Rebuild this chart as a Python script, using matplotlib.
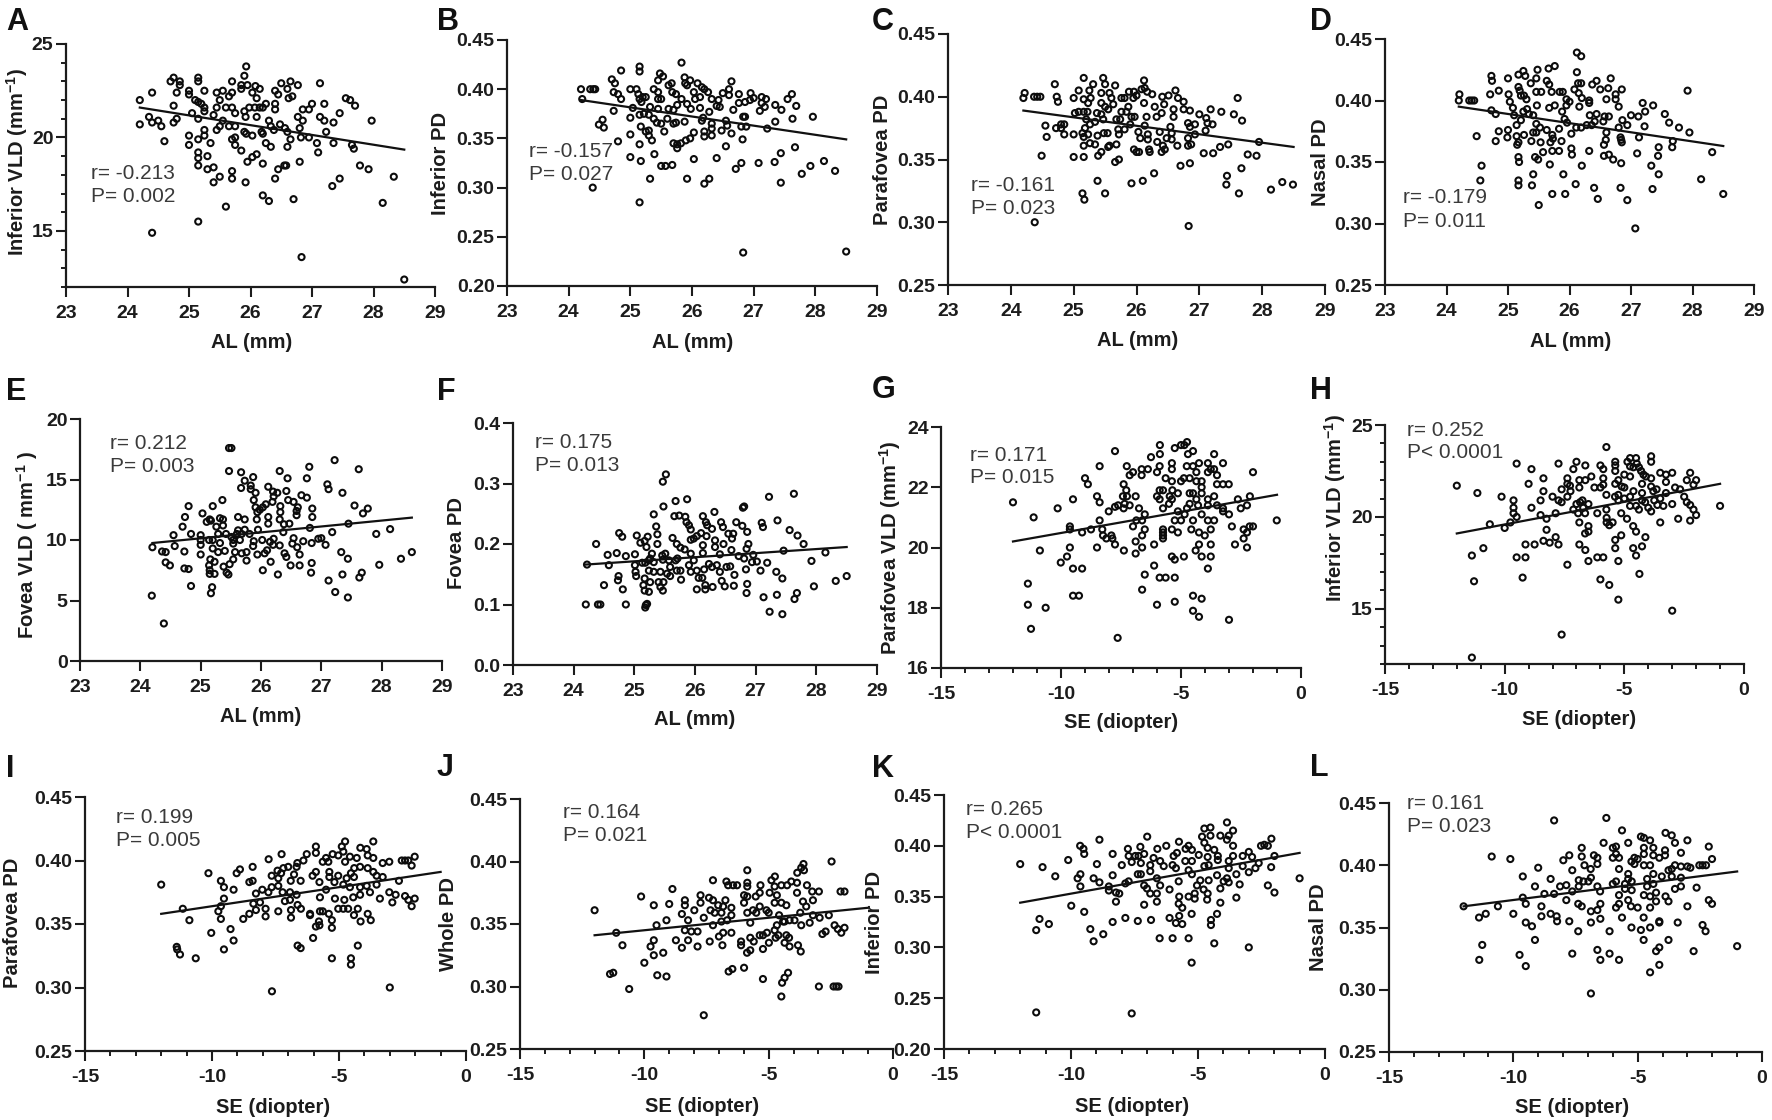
import matplotlib
matplotlib.use("Agg")
import matplotlib.pyplot as plt
from matplotlib.ticker import FixedLocator

plt.rcParams['font.family'] = ['Liberation Sans', 'DejaVu Sans']
plt.rcParams['axes.unicode_minus'] = False
plt.rcParams['mathtext.fontset'] = 'custom'
plt.rcParams['mathtext.bf'] = 'Liberation Sans:bold'
plt.rcParams['mathtext.rm'] = 'Liberation Sans'
plt.rcParams['mathtext.default'] = 'bf'

W, H = 1772, 1120
INK = '#1c1c1c'

a_points = [(24.2,22.0),(24.2,20.7),(24.35,21.1),(24.4,22.4),(24.4,20.8),(24.5,20.9),(24.55,20.6),(24.6,19.8),(24.4,14.9),(24.7,23.0),(24.75,23.2),(24.75,21.7),(24.75,20.8),(24.8,21.0),(24.8,22.4),(24.85,23.0),(24.85,22.8),(25.0,22.5),(25.0,22.3),(25.0,20.1),(25.0,19.6),(25.05,21.3),(25.15,23.2),(25.15,23.0),(25.25,22.5),(25.1,22.0),(25.15,21.9),(25.2,21.8),(25.25,21.6),(25.25,21.4),(25.15,21.0),(25.15,19.9),(25.25,20.1),(25.25,20.4),(25.15,19.2),(25.15,18.9),(25.15,18.5),(25.3,19.0),(25.3,18.3),(25.4,18.4),(25.35,19.7),(25.4,17.6),(25.5,17.9),(25.6,16.3),(25.15,15.5),(25.45,20.4),(25.5,20.6),(25.4,21.2),(25.45,21.6),(25.5,22.0),(25.45,22.4),(25.55,22.5),(25.65,22.2),(25.7,22.4),(25.6,21.6),(25.7,21.6),(25.55,20.9),(25.65,20.6),(25.75,20.6),(25.75,21.3),(25.7,23.0),(25.7,19.9),(25.75,20.0),(25.75,19.6),(25.85,19.3),(25.7,18.2),(25.7,17.8),(25.92,17.6),(25.85,22.8),(25.85,22.6),(25.9,23.3),(25.93,23.8),(25.95,22.8),(25.9,21.4),(25.92,21.1),(25.9,20.3),(25.93,20.2),(26.03,20.1),(25.95,18.7),(26.03,18.95),(26.1,19.1),(26.2,18.6),(25.98,21.6),(26.07,21.6),(26.15,21.6),(26.2,21.6),(26.03,22.4),(26.08,22.75),(26.15,22.6),(26.1,22.1),(26.1,21.1),(26.18,20.3),(26.2,20.2),(26.25,19.7),(26.33,19.5),(26.2,16.9),(26.3,16.6),(26.4,17.8),(26.45,18.3),(26.55,18.5),(26.58,18.5),(26.7,16.7),(26.8,18.7),(26.83,13.6),(26.25,21.8),(26.4,21.8),(26.4,21.5),(26.4,22.5),(26.45,22.3),(26.5,22.9),(26.6,22.6),(26.65,23.0),(26.77,22.8),(26.62,22.1),(26.68,22.2),(26.3,20.9),(26.33,20.6),(26.38,20.4),(26.48,20.7),(26.56,20.5),(26.6,20.3),(26.6,19.5),(26.65,19.9),(26.77,21.1),(26.85,21.5),(26.85,20.9),(26.8,20.5),(26.82,20.0),(26.95,20.0),(26.95,21.5),(27.0,21.8),(27.13,22.9),(27.2,21.8),(27.13,21.1),(27.2,20.9),(27.23,20.3),(27.08,19.7),(27.1,19.2),(27.35,20.8),(27.45,21.3),(27.35,19.7),(27.33,17.4),(27.45,17.8),(27.55,22.1),(27.62,22.0),(27.7,21.7),(27.65,19.6),(27.68,19.4),(27.78,18.5),(27.92,18.3),(27.97,20.9),(28.15,16.5),(28.33,17.9),(28.5,12.4)]

b_points = [(24.2,.400),(24.22,.390),(24.35,.400),(24.4,.400),(24.43,.400),(24.39,.300),(24.49,.364),(24.55,.369),(24.57,.361),(24.7,.41),(24.75,.406),(24.73,.397),(24.8,.395),(24.85,.39),(24.73,.378),(24.8,.347),(24.85,.419),(25,.40),(25.1,.40),(25.15,.423),(25.15,.418),(25.13,.395),(25.15,.39),(25.2,.392),(25.25,.392),(25.18,.387),(25.04,.381),(25,.371),(25,.354),(25,.331),(25.15,.374),(25.17,.362),(25.15,.344),(25.17,.327),(25.15,.285),(25.22,.375),(25.3,.374),(25.32,.382),(25.38,.40),(25.45,.409),(25.48,.416),(25.53,.413),(25.45,.397),(25.45,.39),(25.5,.39),(25.45,.38),(25.38,.37),(25.43,.366),(25.5,.365),(25.55,.357),(25.6,.37),(25.62,.38),(25.67,.406),(25.62,.404),(25.68,.397),(25.74,.395),(25.76,.384),(25.7,.379),(25.7,.365),(25.74,.366),(25.25,.357),(25.3,.358),(25.35,.348),(25.3,.353),(25.39,.334),(25.32,.309),(25.5,.322),(25.57,.322),(25.68,.323),(25.7,.345),(25.76,.344),(25.76,.34),(25.82,.345),(25.9,.348),(25.97,.35),(26.03,.356),(26.03,.329),(25.92,.309),(26.2,.304),(26.28,.309),(25.83,.427),(25.83,.39),(25.88,.412),(25.89,.406),(25.92,.404),(25.97,.409),(25.92,.385),(25.88,.367),(25.98,.38),(26.03,.397),(26.09,.406),(26.16,.402),(26.13,.392),(26.05,.39),(26.13,.381),(26.16,.368),(26.18,.371),(26.2,.40),(26.26,.397),(26.32,.39),(26.28,.377),(26.2,.357),(26.2,.352),(26.32,.353),(26.32,.36),(26.32,.365),(26.4,.383),(26.43,.389),(26.45,.382),(26.4,.33),(26.48,.358),(26.55,.368),(26.57,.363),(26.55,.342),(26.5,.396),(26.6,.40),(26.6,.394),(26.64,.408),(26.67,.379),(26.64,.355),(26.71,.319),(26.76,.395),(26.76,.386),(26.8,.362),(26.8,.325),(26.82,.349),(26.83,.372),(26.86,.372),(26.88,.362),(26.83,.234),(26.86,.387),(26.94,.389),(26.95,.396),(27,.391),(27.08,.325),(27.1,.378),(27.13,.392),(27.13,.386),(27.2,.39),(27.18,.382),(27.22,.36),(27.35,.384),(27.35,.367),(27.34,.326),(27.45,.379),(27.44,.335),(27.44,.305),(27.55,.39),(27.62,.395),(27.63,.37),(27.69,.383),(27.67,.341),(27.78,.314),(27.92,.322),(27.96,.372),(28.14,.327),(28.32,.317),(28.5,.235)]

c_points = [(24.22,.403),(24.2,.399),(24.37,.40),(24.42,.40),(24.47,.40),(24.38,.30),(24.49,.353),(24.55,.377),(24.57,.368),(24.7,.41),(24.73,.40),(24.75,.396),(24.72,.375),(24.8,.378),(24.85,.378),(24.8,.375),(24.85,.37),(25,.399),(25.08,.405),(25.16,.415),(25.16,.398),(25,.37),(25,.352),(25.16,.352),(25.14,.323),(25.17,.318),(25.02,.387),(25.08,.388),(25.16,.388),(25.22,.388),(25.2,.382),(25.26,.378),(25.18,.375),(25.14,.371),(25.16,.368),(25.23,.37),(25.16,.361),(25.26,.363),(25.34,.362),(25.25,.405),(25.31,.41),(25.27,.399),(25.23,.395),(25.34,.38),(25.37,.387),(25.44,.403),(25.47,.415),(25.5,.41),(25.44,.395),(25.5,.392),(25.55,.39),(25.57,.403),(25.6,.399),(25.66,.409),(25.63,.394),(25.47,.382),(25.44,.386),(25.38,.369),(25.48,.371),(25.54,.371),(25.39,.353),(25.44,.356),(25.38,.333),(25.5,.323),(25.55,.36),(25.57,.361),(25.68,.362),(25.66,.348),(25.72,.35),(25.68,.382),(25.74,.382),(25.71,.374),(25.72,.37),(25.76,.399),(25.76,.388),(25.84,.388),(25.81,.399),(25.87,.392),(25.81,.374),(25.9,.378),(25.92,.384),(25.97,.384),(25.95,.399),(25.88,.404),(25.96,.404),(26,.401),(25.92,.331),(26.1,.333),(25.96,.358),(26,.356),(26.04,.356),(26.03,.372),(26.06,.367),(26.12,.395),(26.12,.413),(26.08,.406),(26.13,.407),(26.17,.404),(26.25,.402),(26.18,.37),(26.18,.366),(26.2,.358),(26.21,.356),(26.13,.377),(26.16,.384),(26.28,.339),(26.29,.392),(26.32,.384),(26.4,.387),(26.33,.364),(26.37,.372),(26.4,.356),(26.45,.358),(26.42,.361),(26.48,.367),(26.41,.4),(26.44,.394),(26.51,.401),(26.54,.376),(26.56,.371),(26.56,.366),(26.59,.384),(26.59,.39),(26.62,.405),(26.66,.399),(26.65,.361),(26.7,.345),(26.75,.396),(26.75,.39),(26.85,.347),(26.85,.389),(26.82,.379),(26.85,.376),(26.93,.378),(26.82,.367),(26.82,.361),(26.87,.362),(26.93,.37),(26.83,.297),(27,.386),(27.07,.355),(27.11,.383),(27.1,.373),(27.13,.379),(27.21,.378),(27.18,.39),(27.22,.355),(27.35,.388),(27.33,.36),(27.46,.362),(27.44,.337),(27.43,.33),(27.55,.386),(27.61,.399),(27.68,.381),(27.67,.343),(27.63,.323),(27.77,.354),(27.91,.353),(27.95,.364),(28.14,.326),(28.32,.332),(28.49,.33)]

d_points = [(24.21,.405),(24.2,.40),(24.37,.40),(24.41,.40),(24.45,.40),(24.49,.371),(24.57,.347),(24.55,.335),(24.73,.42),(24.74,.416),(24.71,.405),(24.85,.408),(24.73,.392),(24.8,.389),(24.85,.375),(24.8,.367),(25,.418),(25.01,.405),(25.03,.399),(25.08,.394),(25,.376),(24.99,.37),(25.1,.388),(25.14,.38),(25.14,.371),(25.17,.366),(25.15,.364),(25.17,.354),(25.18,.35),(25.17,.335),(25.17,.331),(25.17,.421),(25.25,.424),(25.28,.42),(25.17,.411),(25.19,.408),(25.21,.404),(25.26,.404),(25.3,.401),(25.21,.384),(25.25,.391),(25.31,.393),(25.34,.389),(25.26,.372),(25.37,.414),(25.46,.418),(25.48,.425),(25.38,.367),(25.44,.354),(25.49,.352),(25.41,.34),(25.39,.331),(25.5,.315),(25.46,.407),(25.54,.407),(25.47,.396),(25.41,.388),(25.46,.381),(25.52,.378),(25.41,.374),(25.46,.374),(25.53,.366),(25.57,.358),(25.63,.376),(25.68,.348),(25.66,.426),(25.76,.428),(25.63,.416),(25.67,.413),(25.71,.407),(25.67,.394),(25.76,.396),(25.72,.372),(25.73,.369),(25.69,.366),(25.72,.359),(25.83,.359),(25.72,.324),(25.84,.407),(25.89,.407),(25.87,.367),(25.83,.377),(25.9,.34),(25.93,.324),(25.88,.391),(25.92,.385),(25.96,.382),(25.95,.401),(26,.399),(25.95,.396),(26.03,.373),(26.03,.361),(26.04,.356),(26.08,.409),(26.12,.423),(26.12,.439),(26.19,.436),(26.14,.414),(26.19,.414),(26.15,.406),(26.2,.402),(26.16,.395),(26.11,.378),(26.19,.378),(26.2,.347),(26.1,.332),(26.32,.40),(26.32,.398),(26.32,.359),(26.28,.38),(26.33,.388),(26.36,.38),(26.41,.383),(26.44,.389),(26.37,.413),(26.44,.416),(26.4,.329),(26.46,.32),(26.5,.409),(26.63,.41),(26.6,.401),(26.55,.383),(26.64,.387),(26.57,.387),(26.6,.374),(26.59,.368),(26.56,.364),(26.56,.355),(26.64,.356),(26.71,.352),(26.67,.418),(26.75,.405),(26.75,.401),(26.8,.395),(26.85,.409),(26.86,.384),(26.8,.378),(26.83,.37),(26.84,.368),(26.85,.366),(26.84,.349),(26.83,.329),(26.94,.319),(26.94,.38),(27,.388),(27.12,.387),(27.13,.37),(27.1,.357),(27.07,.296),(27.19,.398),(27.23,.391),(27.22,.379),(27.36,.396),(27.33,.347),(27.35,.328),(27.45,.362),(27.44,.355),(27.45,.34),(27.55,.389),(27.62,.382),(27.68,.367),(27.67,.362),(27.78,.378),(27.92,.408),(27.95,.374),(28.14,.336),(28.32,.358),(28.5,.324)]

e_points = [(24.2,9.4),(24.19,5.4),(24.36,9.05),(24.42,9.0),(24.39,3.1),(24.42,8.15),(24.49,7.9),(24.55,10.4),(24.57,9.5),(24.7,11.1),(24.74,11.9),(24.8,12.8),(24.73,9.05),(24.73,7.65),(24.8,7.6),(24.84,6.2),(24.84,10.5),(25,10.4),(25,10),(25,9.6),(25,8.8),(25.03,12.2),(25.1,11.5),(25.15,11.7),(25.17,11.6),(25.2,12.8),(25.14,10),(25.2,10),(25.2,9.3),(25.16,8.4),(25.14,7.9),(25.15,7.5),(25.15,7.2),(25.23,8.2),(25.23,7.2),(25.19,6.1),(25.17,5.6),(25.29,9),(25.32,9.75),(25.26,11.1),(25.32,11.8),(25.37,11.7),(25.36,13.3),(25.29,10.5),(25.37,11.2),(25.42,10.5),(25.4,9.1),(25.38,7.8),(25.43,7.3),(25.46,7.15),(25.48,8),(25.54,8.4),(25.47,17.6),(25.51,17.6),(25.47,15.7),(25.51,10.25),(25.54,10),(25.54,9.7),(25.6,10.5),(25.62,10.8),(25.57,9),(25.68,8.9),(25.76,8.3),(25.76,9),(25.65,10),(25.68,10.5),(25.73,10.85),(25.81,10.5),(25.62,11.9),(25.73,11.7),(25.67,15.6),(25.67,14.3),(25.73,14.9),(25.83,14.5),(25.87,15.2),(25.83,14.2),(25.91,13.9),(25.88,13.3),(25.91,12.7),(25.94,12.3),(25.93,11.7),(25.95,10.85),(25.88,9.9),(25.87,9.5),(25.94,8.8),(25.98,12.5),(26.03,12.7),(26.08,12.95),(26.02,10),(26.06,8.9),(26.1,9.15),(26.03,7.5),(26.16,8.2),(26.12,14.4),(26.12,11.9),(26.12,11.35),(26.2,14),(26.19,13.15),(26.21,13.6),(26.27,13.9),(26.15,9.85),(26.21,10.1),(26.2,9.6),(26.31,9.55),(26.28,7.15),(26.32,12.8),(26.32,12.3),(26.31,11.7),(26.31,15.7),(26.38,11.3),(26.47,11.35),(26.37,10.65),(26.39,8.9),(26.42,8.6),(26.49,7.9),(26.44,15.1),(26.42,14.05),(26.45,13.3),(26.54,13.15),(26.61,12.7),(26.59,12.4),(26.59,12.05),(26.54,10.15),(26.52,9.7),(26.6,9.4),(26.64,8.8),(26.64,7.9),(26.7,9.9),(26.67,13.7),(26.76,13.5),(26.76,15.1),(26.8,16.05),(26.85,12.6),(26.85,11.9),(26.81,11),(26.84,9.75),(26.84,8.1),(26.83,7.3),(26.95,10.1),(27,10.15),(27.07,9.6),(27.1,14.6),(27.12,14.2),(27.22,16.6),(27.18,10.65),(27.12,6.65),(27.23,5.7),(27.35,13.9),(27.33,9),(27.44,8.45),(27.35,7.15),(27.45,11.35),(27.44,5.25),(27.55,12.85),(27.62,15.85),(27.69,12.2),(27.77,12.6),(27.67,7.3),(27.63,6.9),(27.91,10.5),(27.96,7.95),(28.14,10.9),(28.32,8.45),(28.5,9)]

f_points = [(24.2,.10),(24.22,.166),(24.37,.20),(24.4,.10),(24.44,.10),(24.5,.132),(24.56,.182),(24.58,.165),(24.71,.185),(24.75,.218),(24.8,.212),(24.74,.147),(24.73,.14),(24.81,.125),(24.86,.18),(24.86,.10),(25.01,.183),(25.04,.214),(25.01,.165),(25.02,.154),(25.03,.147),(25.1,.202),(25.17,.205),(25.22,.212),(25.2,.195),(25.13,.169),(25.18,.169),(25.24,.173),(25.17,.143),(25.15,.132),(25.17,.123),(25.24,.121),(25.26,.137),(25.19,.099),(25.18,.095),(25.21,.101),(25.32,.249),(25.36,.229),(25.38,.216),(25.38,.2),(25.29,.184),(25.26,.176),(25.32,.17),(25.24,.156),(25.32,.154),(25.4,.137),(25.43,.129),(25.47,.123),(25.48,.137),(25.48,.262),(25.47,.303),(25.52,.315),(25.46,.181),(25.51,.184),(25.47,.174),(25.57,.173),(25.59,.162),(25.54,.151),(25.59,.147),(25.43,.154),(25.63,.21),(25.68,.271),(25.66,.246),(25.74,.247),(25.7,.2),(25.68,.173),(25.71,.176),(25.7,.156),(25.76,.156),(25.77,.141),(25.76,.194),(25.83,.191),(25.84,.245),(25.87,.274),(25.86,.236),(25.9,.231),(25.93,.224),(25.93,.207),(25.98,.209),(25.93,.184),(25.9,.165),(25.93,.154),(26.03,.156),(25.98,.173),(26.03,.125),(26.03,.213),(26.1,.218),(26.19,.213),(26.13,.246),(26.18,.236),(26.2,.231),(26.28,.225),(26.32,.253),(26.13,.198),(26.13,.185),(26.06,.144),(26.12,.144),(26.15,.158),(26.17,.132),(26.17,.125),(26.29,.129),(26.23,.167),(26.28,.162),(26.33,.206),(26.33,.195),(26.36,.165),(26.41,.183),(26.41,.154),(26.44,.139),(26.49,.13),(26.43,.236),(26.46,.228),(26.47,.2),(26.55,.217),(26.63,.217),(26.61,.209),(26.6,.19),(26.52,.162),(26.58,.163),(26.65,.149),(26.64,.131),(26.68,.236),(26.78,.23),(26.79,.26),(26.81,.262),(26.86,.22),(26.72,.18),(26.81,.176),(26.84,.158),(26.86,.134),(26.85,.119),(26.88,.2),(26.85,.192),(26.94,.17),(26.96,.182),(27.02,.171),(27.08,.156),(27.1,.235),(27.12,.228),(27.19,.169),(27.13,.112),(27.22,.278),(27.23,.088),(27.36,.239),(27.34,.154),(27.35,.116),(27.44,.143),(27.46,.189),(27.44,.084),(27.56,.223),(27.63,.283),(27.69,.214),(27.79,.2),(27.68,.119),(27.64,.109),(27.92,.172),(27.96,.13),(28.15,.186),(28.32,.139),(28.5,.147)]

g_points = [(-12,21.5),(-11.38,18.8),(-11.38,18.1),(-11.25,17.3),(-11.14,21),(-10.88,19.9),(-10.64,18),(-10.14,21.3),(-10.01,19.5),(-9.75,19.7),(-9.63,20),(-9.63,20.7),(-9.63,20.6),(-9.5,21.6),(-9.5,19.3),(-9.5,18.4),(-9.25,18.4),(-9.12,19.3),(-9.12,20.5),(-9,22.3),(-8.88,22.1),(-8.75,20.6),(-8.5,21.7),(-8.39,21.5),(-8.39,22.7),(-8.5,20),(-8.39,20.9),(-8.28,20.6),(-8.25,20.4),(-8.11,20.3),(-7.9,20.4),(-7.86,20.3),(-7.75,20.1),(-8.01,21.2),(-7.75,21.35),(-7.62,21.4),(-7.75,23.2),(-7.64,17),(-7.38,19.9),(-7.39,22.1),(-7.28,21.9),(-7.42,21.7),(-7.25,21.7),(-7.35,21.45),(-7.14,21.4),(-7.39,21.3),(-7.26,22.7),(-7.14,22.4),(-7,22.5),(-6.89,21.7),(-6.75,21.3),(-7,20.7),(-6.86,20.9),(-6.62,20.9),(-6.51,21.1),(-6.51,20.6),(-6.62,20.4),(-6.89,20.2),(-6.62,20),(-6.89,19.8),(-6.51,19.1),(-6.62,18.6),(-6.64,22.6),(-6.64,22.4),(-6.38,22.6),(-6.25,23),(-6,22.5),(-5.89,22.7),(-5.88,23.4),(-5.88,23.1),(-6.12,20.1),(-6.12,19.4),(-6,18.1),(-5.89,19),(-5.64,19),(-5.89,21.9),(-5.75,21.9),(-6,21.7),(-5.89,21.6),(-5.75,21.3),(-5.75,20.6),(-5.75,20.5),(-5.75,20.4),(-5.75,20.3),(-5.64,22.3),(-5.38,22.2),(-5.38,22.8),(-5.38,22.6),(-5.47,21.7),(-5.36,21.9),(-5.38,21.6),(-5.13,21.8),(-5.5,21.45),(-5.26,19),(-5.38,19.7),(-5.26,19.6),(-5.26,18.2),(-5.38,20.6),(-5.13,20.5),(-5.26,20.9),(-5.26,23.3),(-5,23.4),(-4.86,23.4),(-4.75,23.5),(-4.71,23.1),(-4.5,23.2),(-5,22.2),(-4.88,22.3),(-4.64,22.3),(-4.76,22.7),(-4.5,22.7),(-4.36,22.5),(-4.25,22.8),(-5.13,21.2),(-5,20.9),(-4.75,21.3),(-4.85,21.1),(-4.64,21.8),(-4.5,21.8),(-4.64,21.45),(-4.36,21.6),(-4.57,20.6),(-4.5,20.9),(-4.88,19.7),(-4.39,19.9),(-4.25,20.1),(-4.25,20.5),(-4.5,18.4),(-4.14,18.3),(-4.5,17.9),(-4.25,17.7),(-4.36,22.2),(-4.14,22.2),(-4.14,22),(-4.14,21.8),(-4.29,21.4),(-4.14,21.1),(-4.01,20.4),(-4.14,19.7),(-3.88,22.8),(-3.88,22.5),(-3.62,23.1),(-3.62,22.6),(-3.5,22.4),(-3.76,22.6),(-3.62,21.7),(-3.88,21.6),(-3.88,21.4),(-3.88,20.9),(-3.62,20.9),(-3.76,20.6),(-3.76,20.1),(-3.76,19.7),(-3.88,19.3),(-3.5,22.1),(-3.25,22.1),(-3.01,22.1),(-3.25,22.8),(-3.5,21.4),(-3.25,21.3),(-3.25,21.2),(-3,21.1),(-2.88,20.7),(-3,17.6),(-2.75,20.1),(-2.63,21.6),(-2.51,21.3),(-2.25,21.4),(-2.13,21.7),(-2,22.5),(-2.39,20.6),(-2.39,20.3),(-2.25,20),(-2.25,20.5),(-2.14,20.7),(-2,20.7),(-1.01,20.9)]

h_points = [(-12,21.7),(-11.37,12.35),(-11.37,17.9),(-11.28,16.5),(-11.14,21.3),(-10.89,18.3),(-10.62,19.6),(-10.13,21.1),(-10,19.4),(-9.76,19.7),(-9.63,20.9),(-9.63,20.5),(-9.63,20.2),(-9.5,20),(-9.5,22.9),(-9.5,17.8),(-9.13,17.8),(-9.25,16.7),(-9.13,18.5),(-9,21.8),(-8.88,22.6),(-8.88,20.5),(-8.75,18.5),(-8.5,20.9),(-8.5,20.1),(-8.38,22.1),(-8.38,21.4),(-8.25,19.9),(-8.25,19.3),(-8.38,18.7),(-8.12,18.6),(-8,21.1),(-7.87,20.2),(-7.87,18.9),(-7.75,22.9),(-7.75,18.5),(-7.75,20.9),(-7.62,20.8),(-7.62,21.5),(-7.62,13.6),(-7.38,17.4),(-7.38,22.1),(-7.38,21.8),(-7.27,21.7),(-7.38,21.1),(-7.25,21.4),(-7.13,22.6),(-7,23),(-6.88,22),(-6.88,21.6),(-7.13,20.4),(-7,20.7),(-6.85,20.8),(-6.75,20.9),(-6.72,20.5),(-6.93,20.2),(-6.88,19.7),(-6.64,20.2),(-6.5,20.7),(-6.88,18.5),(-6.63,18.2),(-6.5,17.6),(-6.63,22.8),(-6.63,22),(-6.38,22.2),(-6.5,19.5),(-6.5,19.2),(-6.64,19.1),(-6.25,21.6),(-6.13,20.2),(-6.13,17.8),(-5.88,17.8),(-6,22.8),(-5.88,22.6),(-6,21.6),(-5.88,22.1),(-5.88,21.75),(-6,16.6),(-5.63,16.3),(-5.75,23.8),(-5.75,21.2),(-5.75,20.4),(-5.74,19.95),(-5.74,19.7),(-5.63,19.55),(-5.49,19.7),(-5.39,21.1),(-5.38,23),(-5.38,22.8),(-5.38,22.5),(-5.38,21.8),(-5.25,21.2),(-5.25,22),(-5.11,21.65),(-5,21.6),(-5.25,20.9),(-5.38,18.75),(-5.38,18.3),(-5.25,17.6),(-5.25,15.5),(-5.13,19),(-5.13,20.2),(-4.89,19.9),(-5,22.3),(-4.76,22.2),(-4.76,23.2),(-4.87,23),(-4.76,22.75),(-4.62,22.7),(-4.51,23.2),(-4.48,22.9),(-4.39,22.7),(-4.3,22.5),(-4.2,22.3),(-4.1,22.2),(-5,21),(-4.76,21.1),(-4.62,21.4),(-4.76,20.6),(-4.51,20.6),(-4.63,19.5),(-4.51,19.2),(-4.63,18.3),(-4.51,17.9),(-4.37,16.9),(-4.39,20.4),(-4.26,21.8),(-4.26,21.3),(-4.26,20.9),(-4.26,18.4),(-4.12,18.9),(-4.13,20.8),(-4,20.5),(-3.88,20.3),(-3.88,22.1),(-3.88,23.3),(-3.88,23),(-3.88,21.65),(-3.79,21.4),(-3.65,21.5),(-3.75,20.9),(-3.62,20.65),(-3.5,19.7),(-3.5,22.4),(-3.26,22.3),(-3,22.4),(-3.26,21.9),(-3.5,21),(-3.37,20.6),(-3.26,21.3),(-3,20.7),(-3,14.9),(-2.88,21.6),(-2.75,19.9),(-2.67,21.5),(-2.5,21.1),(-2.39,20.8),(-2.25,22.4),(-2.39,22),(-2.25,20.65),(-2.25,19.8),(-2.11,21.75),(-2.11,20.4),(-2,22),(-2,20.1),(-1,20.6)]

i_points = [(-12,.381),(-11.15,.362),(-11.39,.332),(-11.37,.33),(-11.26,.326),(-10.89,.353),(-10.64,.323),(-10.14,.39),(-10.03,.343),(-9.65,.384),(-9.53,.379),(-9.53,.37),(-9.75,.36),(-9.65,.354),(-9.65,.364),(-9.53,.33),(-9.27,.346),(-9.15,.337),(-9.15,.377),(-9.03,.39),(-8.9,.393),(-8.77,.354),(-8.53,.358),(-8.53,.383),(-8.4,.384),(-8.4,.395),(-8.37,.366),(-8.27,.361),(-8.27,.374),(-8.11,.367),(-8.02,.377),(-7.89,.362),(-7.89,.356),(-7.78,.375),(-7.77,.401),(-7.65,.388),(-7.64,.297),(-7.65,.379),(-7.39,.36),(-7.39,.386),(-7.39,.38),(-7.26,.405),(-7.28,.39),(-7.42,.392),(-7.19,.394),(-7,.395),(-7.22,.375),(-7.13,.368),(-6.93,.375),(-6.93,.369),(-6.89,.361),(-6.89,.355),(-6.77,.389),(-6.9,.384),(-6.67,.373),(-6.63,.365),(-6.67,.395),(-6.64,.398),(-6.51,.384),(-6.5,.362),(-6.63,.333),(-6.51,.331),(-6.4,.4),(-6.27,.405),(-6.14,.358),(-6.14,.357),(-6.04,.388),(-6.02,.339),(-5.91,.411),(-5.91,.406),(-5.91,.391),(-5.91,.348),(-5.77,.383),(-5.75,.371),(-5.75,.36),(-5.79,.352),(-5.77,.349),(-5.64,.36),(-5.64,.399),(-5.51,.402),(-5.42,.399),(-5.51,.377),(-5.38,.391),(-5.38,.387),(-5.4,.358),(-5.28,.353),(-5.28,.347),(-5.28,.323),(-5.25,.405),(-5.18,.383),(-5.16,.37),(-5.03,.388),(-5.03,.404),(-5.03,.362),(-4.89,.411),(-4.76,.415),(-4.83,.407),(-4.76,.399),(-4.57,.403),(-4.83,.381),(-4.7,.386),(-4.83,.362),(-4.64,.362),(-4.79,.369),(-4.53,.323),(-4.53,.318),(-4.57,.379),(-4.53,.39),(-4.3,.402),(-4.4,.394),(-4.41,.387),(-4.44,.371),(-4.41,.357),(-4.26,.333),(-4.26,.362),(-4.16,.41),(-4.17,.395),(-4.15,.352),(-4.17,.373),(-4.17,.379),(-3.91,.409),(-3.87,.404),(-3.87,.394),(-3.91,.38),(-3.87,.358),(-3.75,.353),(-3.78,.375),(-3.65,.415),(-3.65,.402),(-3.65,.391),(-3.52,.388),(-3.52,.381),(-3.39,.37),(-3.28,.398),(-3.28,.387),(-3.02,.399),(-3.02,.375),(-3,.3),(-2.9,.367),(-2.77,.373),(-2.64,.384),(-2.53,.4),(-2.4,.4),(-2.27,.4),(-2.14,.396),(-2.02,.403),(-2.4,.372),(-2.27,.369),(-2.14,.364),(-2.02,.37)]

j_points = [(-12,.361),(-11.13,.343),(-10.88,.333),(-11.38,.31),(-11.25,.311),(-10.61,.298),(-10.13,.372),(-10,.319),(-9.62,.365),(-9.51,.349),(-9.62,.337),(-9.75,.332),(-9.62,.325),(-9.48,.309),(-9.24,.327),(-9.11,.353),(-9.11,.308),(-9,.366),(-8.87,.378),(-8.73,.337),(-8.49,.358),(-8.49,.331),(-8.37,.369),(-8.37,.365),(-8.24,.353),(-8.37,.345),(-8.24,.337),(-8.11,.344),(-7.99,.361),(-7.86,.332),(-7.86,.344),(-7.74,.373),(-7.74,.367),(-7.61,.355),(-7.61,.277),(-7.37,.336),(-7.4,.371),(-7.24,.385),(-7.24,.369),(-7.24,.349),(-7.34,.361),(-7.17,.359),(-7.03,.365),(-6.9,.359),(-7,.34),(-6.86,.333),(-6.83,.364),(-6.9,.352),(-6.74,.369),(-6.7,.384),(-6.67,.353),(-6.63,.381),(-6.83,.343),(-6.5,.343),(-6.5,.363),(-6.5,.357),(-6.43,.381),(-6.27,.381),(-6.61,.312),(-6.46,.314),(-6.11,.336),(-6.11,.333),(-5.99,.315),(-5.99,.373),(-5.99,.367),(-5.86,.393),(-5.86,.383),(-5.86,.38),(-5.86,.372),(-5.86,.359),(-5.87,.327),(-5.74,.351),(-5.74,.329),(-5.74,.339),(-5.6,.336),(-5.63,.361),(-5.5,.359),(-5.52,.372),(-5.36,.375),(-5.36,.364),(-5.36,.341),(-5.33,.381),(-5.23,.341),(-5.23,.33),(-5.23,.306),(-5.09,.361),(-5,.359),(-5.07,.343),(-4.99,.335),(-4.96,.375),(-4.89,.385),(-4.75,.388),(-4.67,.373),(-4.76,.38),(-4.76,.367),(-4.67,.349),(-4.76,.345),(-4.61,.341),(-4.72,.339),(-4.49,.292),(-4.46,.303),(-4.36,.307),(-4.22,.311),(-4.58,.357),(-4.49,.367),(-4.49,.381),(-4.29,.365),(-4.26,.381),(-4.36,.352),(-4.42,.352),(-4.29,.341),(-4.18,.339),(-4.36,.335),(-4.16,.332),(-4.09,.384),(-4.16,.353),(-3.96,.353),(-3.86,.383),(-3.86,.375),(-3.85,.391),(-3.82,.333),(-3.71,.328),(-3.69,.395),(-3.6,.398),(-3.58,.393),(-3.73,.359),(-3.69,.349),(-3.62,.368),(-3.49,.364),(-3.46,.381),(-3.35,.351),(-3.25,.376),(-3.22,.369),(-2.98,.376),(-3.22,.357),(-2.95,.355),(-2.98,.3),(-2.84,.342),(-2.71,.344),(-2.58,.357),(-2.47,.4),(-2.39,.3),(-2.28,.3),(-2.19,.3),(-2.35,.349),(-2.22,.346),(-2.08,.343),(-1.95,.347),(-2.11,.376),(-1.95,.376)]

k_points = [(-12,.382),(-11.12,.379),(-11.37,.236),(-11.37,.317),(-11.24,.328),(-10.87,.323),(-10.62,.37),(-10.11,.386),(-9.99,.341),(-9.64,.4),(-9.51,.397),(-9.48,.392),(-9.74,.368),(-9.63,.372),(-9.63,.36),(-9.48,.335),(-9.24,.318),(-9.11,.306),(-9.11,.368),(-8.88,.364),(-8.98,.382),(-8.88,.406),(-8.73,.313),(-8.51,.36),(-8.51,.356),(-8.36,.392),(-8.36,.325),(-8.36,.371),(-8.23,.345),(-8.23,.354),(-8.1,.353),(-8,.381),(-7.86,.363),(-7.73,.365),(-7.86,.329),(-7.61,.235),(-7.76,.397),(-7.73,.39),(-7.61,.384),(-7.47,.39),(-7.37,.326),(-7.27,.399),(-7.34,.39),(-7.25,.383),(-7.37,.372),(-7.25,.372),(-7.12,.392),(-7.12,.361),(-7.12,.342),(-7.01,.358),(-7,.409),(-6.88,.353),(-6.85,.327),(-6.88,.381),(-6.88,.375),(-6.75,.388),(-6.62,.368),(-6.6,.397),(-6.62,.353),(-6.62,.345),(-6.49,.385),(-6.49,.361),(-6.51,.309),(-6.35,.38),(-6.25,.4),(-6.12,.357),(-6.12,.329),(-6,.309),(-6,.381),(-5.96,.39),(-5.87,.378),(-5.87,.324),(-5.83,.393),(-5.75,.404),(-5.76,.365),(-5.74,.35),(-5.76,.343),(-5.74,.331),(-5.62,.339),(-5.62,.323),(-5.5,.385),(-5.49,.397),(-5.37,.4),(-5.37,.35),(-5.37,.309),(-5.24,.396),(-5.37,.376),(-5.24,.385),(-5.24,.372),(-5.25,.333),(-5.25,.285),(-5.13,.353),(-5.13,.348),(-5.04,.361),(-4.91,.366),(-4.97,.391),(-4.84,.409),(-4.75,.417),(-4.75,.403),(-4.75,.38),(-4.78,.357),(-4.62,.353),(-4.64,.347),(-4.51,.418),(-4.51,.41),(-4.62,.398),(-4.62,.389),(-4.58,.381),(-4.58,.366),(-4.49,.327),(-4.49,.322),(-4.36,.304),(-4.25,.333),(-4.36,.396),(-4.22,.39),(-4.22,.386),(-4.12,.41),(-4.25,.371),(-4.12,.358),(-4.12,.344),(-3.86,.423),(-3.79,.41),(-3.62,.415),(-3.86,.406),(-3.62,.4),(-3.79,.385),(-3.79,.378),(-3.86,.368),(-3.99,.365),(-3.79,.364),(-3.62,.39),(-3.49,.372),(-3.49,.349),(-3.36,.362),(-3.24,.39),(-3.24,.38),(-3,.394),(-2.87,.389),(-3,.374),(-3,.3),(-2.74,.378),(-2.61,.383),(-2.52,.4),(-2.39,.401),(-2.25,.4),(-2.11,.407),(-2.12,.379),(-2.25,.361),(-1.99,.39),(-1.99,.354),(-1,.368)]

l_points = [(-12,.367),(-11.38,.358),(-11.11,.361),(-11.37,.324),(-11.25,.336),(-10.87,.407),(-10.62,.367),(-10.12,.405),(-10,.361),(-9.75,.328),(-9.62,.391),(-9.62,.374),(-9.5,.369),(-9.5,.319),(-9.5,.354),(-9.25,.351),(-9.13,.34),(-9.13,.383),(-9,.398),(-8.87,.367),(-8.87,.359),(-8.75,.377),(-8.5,.389),(-8.5,.361),(-8.36,.436),(-8.36,.377),(-8.26,.359),(-8.24,.355),(-8.12,.383),(-7.99,.404),(-7.87,.384),(-7.87,.372),(-7.75,.408),(-7.75,.355),(-7.63,.396),(-7.63,.329),(-7.63,.379),(-7.39,.369),(-7.39,.347),(-7.37,.388),(-7.37,.383),(-7.25,.414),(-7.25,.407),(-7.25,.367),(-7.14,.4),(-7.18,.387),(-6.98,.387),(-6.89,.397),(-6.88,.39),(-6.88,.363),(-6.88,.354),(-6.88,.297),(-6.76,.408),(-6.62,.406),(-6.62,.401),(-6.62,.383),(-6.62,.364),(-6.62,.332),(-6.51,.379),(-6.5,.369),(-6.5,.357),(-6.5,.324),(-6.37,.418),(-6.26,.438),(-6.13,.347),(-6.13,.329),(-6,.414),(-6,.406),(-6,.385),(-5.87,.387),(-5.87,.415),(-5.87,.409),(-5.87,.366),(-5.75,.406),(-5.75,.397),(-5.75,.324),(-5.75,.376),(-5.75,.369),(-5.63,.428),(-5.63,.358),(-5.51,.385),(-5.51,.381),(-5.38,.393),(-5.38,.389),(-5.38,.418),(-5.38,.372),(-5.27,.367),(-5.25,.35),(-5.25,.403),(-5.24,.387),(-5.24,.38),(-5.13,.406),(-5.13,.401),(-5,.405),(-5,.366),(-4.87,.348),(-4.87,.423),(-4.75,.422),(-4.75,.414),(-4.75,.409),(-4.75,.4),(-4.75,.376),(-4.76,.358),(-4.76,.34),(-4.62,.389),(-4.62,.383),(-4.5,.42),(-4.5,.4),(-4.5,.375),(-4.5,.366),(-4.5,.35),(-4.5,.314),(-4.37,.414),(-4.37,.408),(-4.37,.393),(-4.37,.385),(-4.26,.378),(-4.26,.371),(-4.26,.331),(-4.13,.406),(-4.13,.334),(-4.13,.32),(-4.13,.355),(-4.13,.354),(-4.03,.391),(-3.9,.408),(-3.9,.412),(-3.88,.426),(-3.88,.375),(-3.76,.371),(-3.76,.34),(-3.76,.396),(-3.63,.424),(-3.63,.397),(-3.63,.391),(-3.5,.418),(-3.5,.4),(-3.5,.381),(-3.39,.354),(-3.26,.41),(-3.26,.399),(-3.26,.39),(-3.26,.383),(-3,.42),(-3,.399),(-3,.367),(-2.88,.398),(-2.75,.331),(-2.63,.382),(-2.52,.4),(-2.39,.4),(-2.25,.4),(-2.39,.352),(-2.27,.347),(-2.14,.415),(-2.14,.372),(-2.01,.405),(-2.01,.369),(-1,.335)]

fit_al_x = [24.2, 28.5]
fit_se_x = [-12, -1]
fit_a = [21.6, 19.35]
fit_b = [.389, .349]
fit_c = [.389, .360]
fit_d = [.395, .363]
fit_e = [9.75, 11.85]
fit_f = [.166, .195]
fit_g = [20.2, 21.75]
fit_h = [19.1, 21.8]
fit_i = [.358, .391]
fit_j = [.341, .363]
fit_k = [.344, .393]
fit_l = [.367, .395]

al_ticks = [23, 24, 25, 26, 27, 28, 29]
se_ticks = [-15, -10, -5, 0]
se_minor = [-14, -13, -12, -11, -9, -8, -7, -6, -4, -3, -2, -1]
vld_ticks = [15, 20, 25]
vld_minor = [12, 13, 14, 16, 17, 18, 19, 21, 22, 23, 24]
pd_ticks = [0.25, 0.30, 0.35, 0.40, 0.45]
pd2_ticks = [0.20, 0.25, 0.30, 0.35, 0.40, 0.45]

VLD = 'Inferior VLD (mm$^{\\mathbf{-1}}$)'
PARAVLD = 'Parafovea VLD (mm$^{\\mathbf{-1}}$)'
FOVVLD = 'Fovea VLD ( mm$^{\\mathbf{-1}}$ )'

# letter, points, fit, x-kind, ylim, yticks, yminor, yfmt, ylabel, r, P,
# axes box (left,right,top,bottom px), letter (x,base), note (x, base r, base P), xlabel (cx, base), ylabel (cx, cy)
panels = [
 ('A', a_points, fit_a, 'AL', (12, 25), vld_ticks, vld_minor, '%d', VLD, 'r= -0.213', 'P= 0.002', (66,435,44,287), (6,30), (91,179,202), (252,348), (17,162)),
 ('B', b_points, fit_b, 'AL', (.20,.45), pd2_ticks, [], '%.2f', 'Inferior PD', 'r= -0.157', 'P= 0.027', (507,877,40,286), (437,30), (529,157,180), (693,348), (441,163)),
 ('C', c_points, fit_c, 'AL', (.25,.45), pd_ticks, [], '%.2f', 'Parafovea PD', 'r= -0.161', 'P= 0.023', (948,1325,34,285), (872,30), (971,191,214), (1138,346), (883,160)),
 ('D', d_points, fit_d, 'AL', (.25,.45), pd_ticks, [], '%.2f', 'Nasal PD', 'r= -0.179', 'P= 0.011', (1385,1754,39,285), (1310,30), (1403,203,227), (1571,347), (1321,162)),
 ('E', e_points, fit_e, 'AL', (0,20), [0,5,10,15,20], [], '%d', FOVVLD, 'r= 0.212', 'P= 0.003', (80,442,419,661), (6,400), (110,449,472), (261,722), (27,545)),
 ('F', f_points, fit_f, 'AL', (0,.4), [0,.1,.2,.3,.4], [], '%.1f', 'Fovea PD', 'r= 0.175', 'P= 0.013', (513,877,423,665), (437,400), (535,448,471), (695,725), (456,543)),
 ('G', g_points, fit_g, 'SE', (16,24), [16,18,20,22,24], [], '%d', PARAVLD, 'r= 0.171', 'P= 0.015', (941,1301,427,668), (872,398), (970,461,483), (1121,728), (890,548)),
 ('H', h_points, fit_h, 'SE', (12,25), vld_ticks, vld_minor, '%d', VLD, 'r= 0.252', 'P< 0.0001', (1385,1744,425,664), (1310,399), (1407,436,458), (1579,725), (1335,508)),
 ('I', i_points, fit_i, 'SE', (.25,.45), pd_ticks, [], '%.2f', 'Parafovea PD', 'r= 0.199', 'P= 0.005', (85,466,797,1051), (6,777), (116,823,846), (273,1113), (13,923)),
 ('J', j_points, fit_j, 'SE', (.25,.45), pd_ticks, [], '%.2f', 'Whole PD', 'r= 0.164', 'P= 0.021', (520,893,799,1049), (437,776), (563,818,841), (702,1112), (449,924)),
 ('K', k_points, fit_k, 'SE', (.20,.45), pd2_ticks, [], '%.2f', 'Inferior PD', 'r= 0.265', 'P< 0.0001', (944,1325,795,1049), (872,777), (966,815,838), (1132,1112), (875,922)),
 ('L', l_points, fit_l, 'SE', (.25,.45), pd_ticks, [], '%.2f', 'Nasal PD', 'r= 0.161', 'P= 0.023', (1389,1762,803,1052), (1310,776), (1407,809,832), (1572,1113), (1319,927)),
]

fig = plt.figure(figsize=(W/100, H/100), dpi=100, facecolor='white')

def fx(p):
    return p / W

def fy(p):
    return 1 - p / H

for (letter, pts, fit, kind, ylim, yt, ym, yfmt, ylab, rtxt, ptxt, box, lpos, npos, xlpos, ylpos) in panels:
    l, r, t, b = box
    ax = fig.add_axes([fx(l), fy(b), (r-l)/W, (b-t)/H])
    xs = [p[0] for p in pts]
    ys = [p[1] for p in pts]
    ax.scatter(xs, ys, s=19, facecolors='none', edgecolors='#0c0c0c', linewidths=1.5, clip_on=False, zorder=3)
    if kind == 'AL':
        ax.plot(fit_al_x, fit, color='#111111', lw=1.6, zorder=4)
        ax.set_xlim(23, 29)
        ax.set_xticks(al_ticks)
        xlab = 'AL (mm)'
    else:
        ax.plot(fit_se_x, fit, color='#111111', lw=1.6, zorder=4)
        ax.set_xlim(-15, 0)
        ax.set_xticks(se_ticks)
        ax.xaxis.set_minor_locator(FixedLocator(se_minor))
        xlab = 'SE (diopter)'
    ax.set_ylim(*ylim)
    ax.set_yticks(yt)
    ax.set_yticklabels([yfmt % v for v in yt])
    if ym:
        ax.yaxis.set_minor_locator(FixedLocator(ym))
    for s in ('top', 'right'):
        ax.spines[s].set_visible(False)
    for s in ('left', 'bottom'):
        ax.spines[s].set_linewidth(1.6)
        ax.spines[s].set_color(INK)
    ax.tick_params(axis='both', which='major', length=7, width=1.5, color=INK, labelcolor=INK, labelsize=14)
    ax.tick_params(axis='both', which='minor', length=3.5, width=1.4, color=INK)
    ax.tick_params(axis='x', which='major', pad=6)
    ax.tick_params(axis='y', which='major', pad=2)
    for lb in ax.get_xticklabels() + ax.get_yticklabels():
        lb.set_fontweight('bold')
    fig.text(fx(lpos[0]), fy(lpos[1]), letter, fontsize=22, fontweight='bold', color='#111111', ha='left', va='baseline')
    fig.text(fx(npos[0]), fy(npos[1]), rtxt, fontsize=15, color='#3a3a3a', ha='left', va='baseline')
    fig.text(fx(npos[0]), fy(npos[2]), ptxt, fontsize=15, color='#3a3a3a', ha='left', va='baseline')
    fig.text(fx(xlpos[0]), fy(xlpos[1]), xlab, fontsize=14.5, fontweight='bold', color=INK, ha='center', va='baseline')
    fig.text(fx(ylpos[0]), fy(ylpos[1]), ylab, fontsize=14.5, fontweight='bold', color=INK, ha='center', va='center', rotation=90)

fig.savefig('out.png', dpi=100, facecolor='white')
